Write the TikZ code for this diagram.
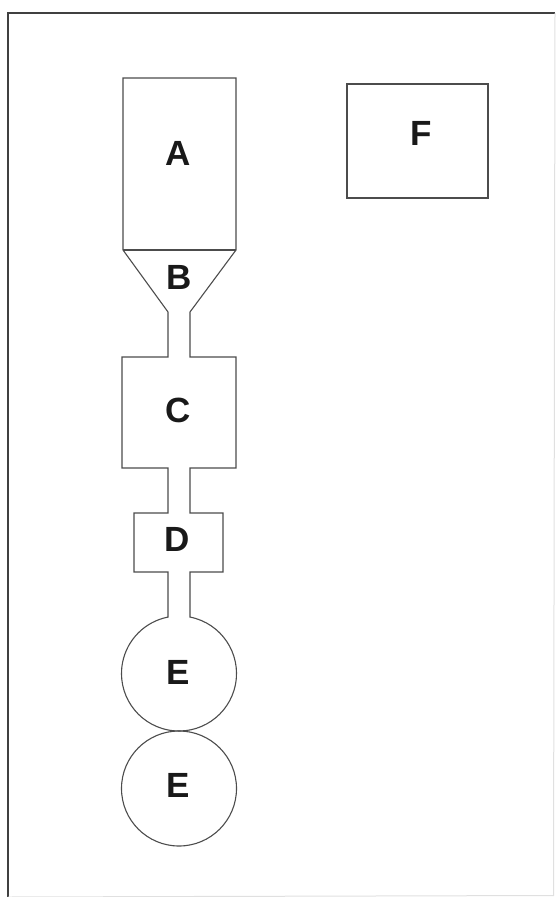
\documentclass[tikz,border=0pt]{standalone}
\usepackage{fontspec}
\setmainfont{Liberation Sans}
\begin{document}
\begin{tikzpicture}[x=1pt,y=-1pt,
  outline/.style={draw=black!70,line width=1.1pt,line join=miter},
  lbl/.style={font=\fontsize{35}{35}\selectfont\bfseries,inner sep=0pt,text=black!90},
  framedark/.style={draw=black!75,line width=1.6pt},
  framelight/.style={draw=black!12,line width=1pt}]
\useasboundingbox (0,0) rectangle (555,897);
% frame
\coordinate (fl) at (8,897);
\coordinate (ftl) at (8,13);
\coordinate (ftr) at (555,13);
\coordinate (fbr) at (553.5,895.5);
\draw[framedark] (fl) -- (ftl) -- (ftr);
\draw[framelight] (ftr) -- (fbr) -- (fl);
% column outline
\draw[outline] (123,78) -- (236,78) -- (236,250) -- (190,312) -- (190,357) -- (236,357)
  -- (236,468) -- (190,468) -- (190,513) -- (223,513) -- (223,572) -- (190,572)
  -- (190,617.06) arc[start angle=-78.97,end angle=258.97,radius=57.5]
  -- (168,572) -- (134,572) -- (134,513) -- (168,513) -- (168,468) -- (122,468)
  -- (122,357) -- (168,357) -- (168,312) -- (123,250) -- cycle;
\draw[outline] (123,250) -- (236,250);
\node[outline,circle,minimum size=115pt,inner sep=0pt] (e2c) at (179,788.5) {};
\node[outline,rectangle,minimum width=141pt,minimum height=114pt,inner sep=0pt] (fbox) at (417.5,141) {};
% labels
\node[lbl] (a) at (178,153) {A};
\node[lbl] (b) at (179,277) {B};
\node[lbl] (c) at (178,410) {C};
\node[lbl] (d) at (177,539) {D};
\node[lbl] (e1) at (178,672) {E};
\node[lbl] (e2) at (178,785) {E};
\node[lbl] (f) at (421,133) {F};
\end{tikzpicture}
\end{document}
